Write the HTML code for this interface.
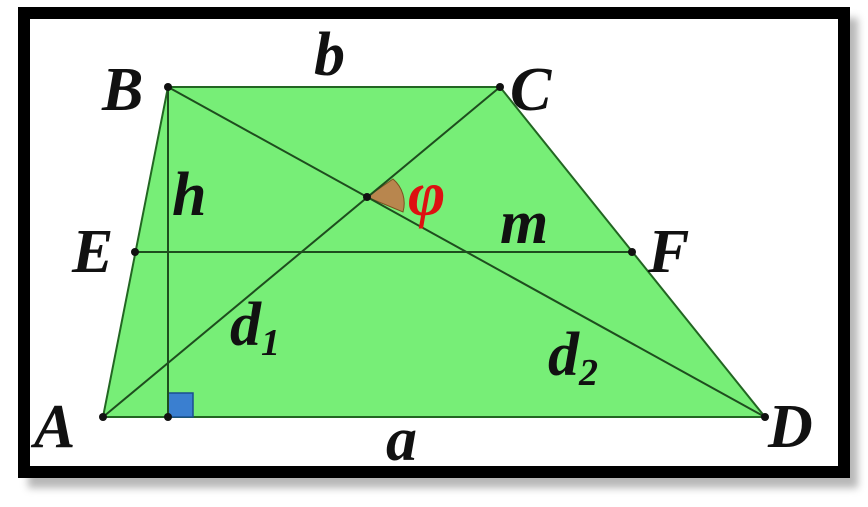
<!DOCTYPE html><html><head><style>body{margin:0;background:#fff}</style></head><body>
<svg width="868" height="502" viewBox="0 0 868 502" xmlns="http://www.w3.org/2000/svg" font-family="Liberation Serif, serif" font-style="italic" font-weight="bold">
<defs><filter id="s"><feGaussianBlur stdDeviation="4"/></filter></defs>
<rect x="28" y="18" width="830" height="470" fill="#888" filter="url(#s)" opacity="0.6"/>
<rect x="24" y="13" width="820" height="459" fill="#fff" stroke="#000" stroke-width="12"/>
<polygon points="103,417 168,87 500,87 765,417" fill="#77ee77" stroke="#226622" stroke-width="2"/>
<rect x="168" y="393" width="25" height="24" fill="#3a7fd0" stroke="#1a4f90" stroke-width="1.5"/>
<path d="M367,197 L393,179 A32,32 0 0 1 403,212 Z" fill="#b8864e" stroke="#7a5020" stroke-width="1"/>
<g stroke="#1e4d1e" stroke-width="2">
<line x1="103" y1="417" x2="500" y2="87"/><line x1="168" y1="87" x2="765" y2="417"/>
<line x1="135" y1="252" x2="632" y2="252"/><line x1="168" y1="87" x2="168" y2="417"/>
</g>
<g fill="#111"><circle cx="103" cy="417" r="4"/><circle cx="168" cy="87" r="4"/><circle cx="500" cy="87" r="4"/><circle cx="765" cy="417" r="4"/><circle cx="135" cy="252" r="4"/><circle cx="632" cy="252" r="4"/><circle cx="367" cy="197" r="4"/><circle cx="168" cy="417" r="4"/></g>
<g fill="#111" font-size="62">
<text x="102" y="110">B</text><text x="510" y="110">C</text><text x="34" y="447">A</text><text x="768" y="447">D</text>
<text x="72" y="272">E</text><text x="648" y="272">F</text>
<text x="314" y="75">b</text><text x="386" y="460">a</text><text x="172" y="215">h</text><text x="500" y="243">m</text>
<text x="230" y="345">d<tspan font-size="38" dy="10">1</tspan></text>
<text x="548" y="375">d<tspan font-size="38" dy="10">2</tspan></text>
<text x="408" y="215" fill="#dd1111" font-size="64">φ</text>
</g>
</svg></body></html>
